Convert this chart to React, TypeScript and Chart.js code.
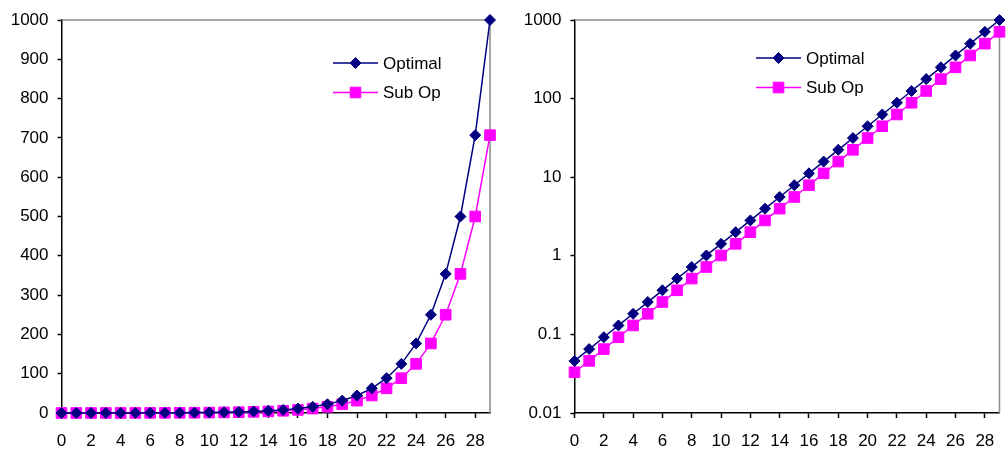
import React, { useEffect, useRef } from "react";
import { Chart, registerables } from "chart.js";

Chart.register(...registerables);

const xValues = [0, 1, 2, 3, 4, 5, 6, 7, 8, 9, 10, 11, 12, 13, 14, 15, 16, 17, 18, 19, 20, 21, 22, 23, 24, 25, 26, 27, 28, 29];
const optimal = [0.046, 0.065, 0.092, 0.13, 0.183, 0.258, 0.364, 0.513, 0.72, 1.01, 1.42, 2.0, 2.82, 3.98, 5.6, 7.9, 11.2, 15.8, 22.3, 31.5, 44.5, 62.8, 88.6, 125, 177, 250, 354, 500, 707, 1000];
const subOp = [0.033, 0.046, 0.065, 0.092, 0.13, 0.183, 0.258, 0.364, 0.513, 0.72, 1.01, 1.42, 2.0, 2.82, 3.98, 5.6, 7.9, 11.2, 15.8, 22.3, 31.5, 44.5, 62.8, 88.6, 125, 177, 250, 354, 500, 707];
const seriesNames = ["Optimal", "Sub Op"];
const linearTicks = [0, 100, 200, 300, 400, 500, 600, 700, 800, 900, 1000];
const logTicks = [0.01, 0.1, 1, 10, 100, 1000];

const NAVY = "#000080";
const MAGENTA = "#FF00FF";
const FONT = "'Liberation Sans', Arial, sans-serif";
const FONT_SIZE = 17;
const DIAMOND_R = 5.5;
const SQUARE_R = 7.5;

function makeDatasets() {
  return [
    {
      label: seriesNames[0],
      data: xValues.map((x, i) => ({ x, y: optimal[i] })),
      borderColor: NAVY,
      backgroundColor: NAVY,
      borderWidth: 1.5,
      pointStyle: "rectRot",
      pointRadius: DIAMOND_R,
      pointBorderWidth: 1,
      pointBorderColor: NAVY,
      pointBackgroundColor: NAVY,
      clip: false as any,
      order: 1,
    },
    {
      label: seriesNames[1],
      data: xValues.map((x, i) => ({ x, y: subOp[i] })),
      borderColor: MAGENTA,
      backgroundColor: MAGENTA,
      borderWidth: 1.5,
      pointStyle: "rect",
      pointRadius: SQUARE_R,
      pointBorderWidth: 1,
      pointBorderColor: MAGENTA,
      pointBackgroundColor: MAGENTA,
      clip: false as any,
      order: 2,
    },
  ];
}

const framePlugin = {
  id: "frame",
  beforeDatasetsDraw(chart: any) {
    const { ctx, chartArea } = chart;
    ctx.save();
    ctx.strokeStyle = "#8c8c8c";
    ctx.lineWidth = 1.5;
    ctx.beginPath();
    ctx.moveTo(chartArea.left, chartArea.top);
    ctx.lineTo(chartArea.right, chartArea.top);
    ctx.lineTo(chartArea.right, chartArea.bottom);
    ctx.stroke();
    ctx.restore();
  },
};

function makeLegendPlugin(lx: number, ly: number) {
  return {
    id: "customLegend",
    afterDraw(chart: any) {
      const { ctx } = chart;
      ctx.save();
      const items = [
        { name: seriesNames[0], color: NAVY, style: "rectRot", r: DIAMOND_R },
        { name: seriesNames[1], color: MAGENTA, style: "rect", r: SQUARE_R },
      ];
      items.forEach((it, i) => {
        const y = ly + i * 29.5;
        ctx.strokeStyle = it.color;
        ctx.lineWidth = 1.5;
        ctx.beginPath();
        ctx.moveTo(lx, y);
        ctx.lineTo(lx + 45, y);
        ctx.stroke();
        ctx.fillStyle = it.color;
        ctx.strokeStyle = it.color;
        ctx.lineWidth = 1;
        const cx = lx + 22.5;
        ctx.beginPath();
        if (it.style === "rectRot") {
          ctx.moveTo(cx, y - it.r);
          ctx.lineTo(cx + it.r, y);
          ctx.lineTo(cx, y + it.r);
          ctx.lineTo(cx - it.r, y);
          ctx.closePath();
        } else {
          const s = it.r * Math.SQRT1_2;
          ctx.rect(cx - s, y - s, 2 * s, 2 * s);
        }
        ctx.fill();
        ctx.stroke();
        ctx.fillStyle = "#000";
        ctx.font = `${FONT_SIZE}px ${FONT}`;
        ctx.textBaseline = "middle";
        ctx.textAlign = "left";
        ctx.fillText(it.name, lx + 50, y + 1);
      });
      ctx.restore();
    },
  };
}

function xScale(axisHeight: number) {
  return {
    type: "linear" as const,
    min: 0,
    max: 29,
    afterFit(scale: any) {
      scale.height = axisHeight;
    },
    ticks: {
      stepSize: 2,
      includeBounds: false,
      autoSkip: false,
      maxRotation: 0,
      color: "#000",
      padding: 13,
      font: { family: FONT, size: FONT_SIZE },
    },
    grid: { display: true, drawOnChartArea: false, drawTicks: true, tickLength: 5, tickColor: "#000", tickWidth: 1.5 },
    border: { display: true, color: "#000", width: 1.5 },
  };
}

function ChartPanel(props: { log: boolean }) {
  const ref = useRef<HTMLCanvasElement | null>(null);
  useEffect(() => {
    if (!ref.current) return;
    const log = props.log;
    const common = {
      ticks: {
        color: "#000",
        padding: 9,
        font: { family: FONT, size: FONT_SIZE },
        callback: (v: any) => String(v),
      },
      grid: { display: true, drawOnChartArea: false, drawTicks: true, tickLength: 4, tickColor: "#000", tickWidth: 1.5 },
      border: { display: true, color: "#000", width: 1.5 },
    };
    const yScale: any = log
      ? {
          type: "logarithmic",
          min: 0.01,
          max: 1000,
          afterBuildTicks(scale: any) {
            scale.ticks = logTicks.map((v) => ({ value: v }));
          },
          afterFit(scale: any) {
            scale.width = 70.5;
          },
          ...common,
        }
      : {
          type: "linear",
          min: 0,
          max: 1000,
          afterBuildTicks(scale: any) {
            scale.ticks = linearTicks.map((v) => ({ value: v }));
          },
          afterFit(scale: any) {
            scale.width = 61.5;
          },
          ...common,
        };
    const chart = new Chart(ref.current, {
      type: "line",
      data: { datasets: makeDatasets() as any },
      options: {
        animation: false,
        responsive: false,
        maintainAspectRatio: false,
        layout: { padding: { left: 0, right: log ? 2 : 14, top: 20, bottom: 0 } },
        plugins: { legend: { display: false }, tooltip: { enabled: false } },
        scales: { x: xScale(37) as any, y: yScale },
      },
      plugins: [framePlugin, log ? makeLegendPlugin(252, 58) : makeLegendPlugin(333, 63)],
    });
    return () => chart.destroy();
  }, [props.log]);
  return <canvas ref={ref} width={504} height={450} style={{ display: "block", width: 504, height: 450 }} />;
}

export default function App() {
  return (
    <div style={{ position: "absolute", left: 0, top: 0, width: 1008, height: 450, background: "#fff", display: "flex" }}>
      <ChartPanel log={false} />
      <ChartPanel log={true} />
    </div>
  );
}
